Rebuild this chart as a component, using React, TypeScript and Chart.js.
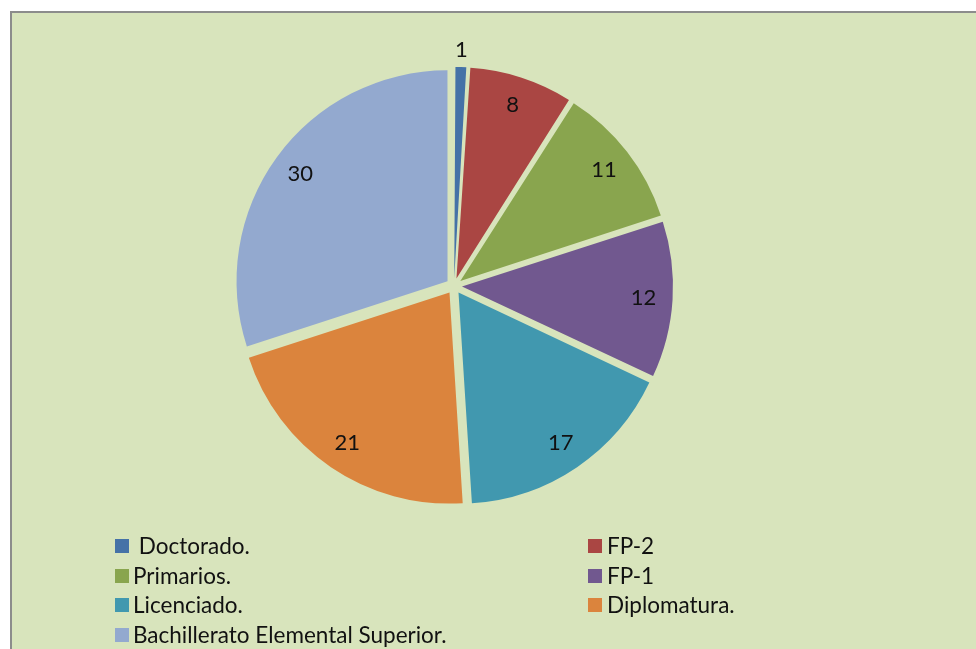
import React, { useEffect, useRef } from "react";
import { Chart, registerables } from "chart.js";

Chart.register(...registerables);

const categories = [
  " Doctorado.",
  "FP-2",
  "Primarios.",
  "FP-1",
  "Licenciado.",
  "Diplomatura.",
  "Bachillerato Elemental Superior.",
];
const values = [1, 8, 11, 12, 17, 21, 30];
const colors = ["#4572A7", "#AA4643", "#89A54E", "#71588F", "#4198AF", "#DB843D", "#93A9CF"];

// legend layout: two columns, order as in the reference
const legendLeft = [0, 2, 4, 6];
const legendRight = [1, 3, 5];

const FONT = "Lato, 'Open Sans', sans-serif";
// Chart.js v4 draws arcs translated by offset / 4
const EXPLODE = 32;

// Chart.js also grows narrow exploded arcs by (offset/4)*(1-sin(circumference));
// shrink them back so that every slice keeps the same radius (like Excel's explode).
const equalRadiusPlugin = {
  id: "equalRadius",
  beforeDatasetsDraw(chart: any) {
    const meta = chart.getDatasetMeta(0);
    const base = meta.controller.outerRadius;
    const off = EXPLODE / 4;
    meta.data.forEach((arc: any) => {
      const fix = 1 - Math.sin(Math.min(Math.PI, arc.circumference || 0));
      arc.outerRadius = base - off * fix;
    });
  },
};

const labelPlugin = {
  id: "sliceLabels",
  afterDatasetsDraw(chart: any) {
    const ctx = chart.ctx;
    const meta = chart.getDatasetMeta(0);
    const base = meta.controller.outerRadius;
    ctx.save();
    ctx.font = `22px ${FONT}`;
    ctx.fillStyle = "#111";
    ctx.textAlign = "center";
    ctx.textBaseline = "middle";
    meta.data.forEach((arc: any, i: number) => {
      const p = arc.getProps(["x", "y", "startAngle", "endAngle"], true);
      const mid = (p.startAngle + p.endAngle) / 2;
      const span = p.endAngle - p.startAngle;
      const off = EXPLODE / 4;
      const dist = span < 0.2 ? base + off + 17 : base * 0.9;
      const x = p.x + Math.cos(mid) * dist;
      const y = p.y + Math.sin(mid) * dist;
      ctx.fillText(String(values[i]), x, y);
    });
    ctx.restore();
  },
};

export default function App() {
  const ref = useRef<HTMLCanvasElement | null>(null);

  useEffect(() => {
    if (!ref.current) return;
    const chart = new Chart(ref.current, {
      type: "pie",
      data: {
        labels: categories.map((c) => c.trim()),
        datasets: [
          {
            data: values,
            backgroundColor: colors,
            borderWidth: 0,
            offset: EXPLODE,
            radius: 211,
          } as any,
        ],
      },
      options: {
        animation: false,
        responsive: false,
        events: [],
        layout: { padding: 0 },
        plugins: {
          legend: { display: false },
          tooltip: { enabled: false },
        },
      },
      plugins: [equalRadiusPlugin, labelPlugin],
    });
    return () => chart.destroy();
  }, []);

  const rowTop = (r: number) => 539 + r * 29.7;

  const legendItem = (idx: number, row: number, boxX: number, textX: number) => (
    <React.Fragment key={idx}>
      <div
        style={{
          position: "absolute",
          left: boxX,
          top: rowTop(row),
          width: 14,
          height: 14,
          background: colors[idx],
        }}
      />
      <div
        style={{
          position: "absolute",
          left: textX,
          top: rowTop(row) + 7 - 15,
          height: 30,
          lineHeight: "30px",
          fontFamily: FONT,
          fontSize: 22.5,
          color: "#111",
          whiteSpace: "pre",
        }}
      >
        {categories[idx]}
      </div>
    </React.Fragment>
  );

  return (
    <div
      style={{
        position: "fixed",
        left: 0,
        top: 0,
        width: 976,
        height: 649,
        overflow: "hidden",
        background: "#fff",
      }}
    >
      <div
        style={{
          position: "absolute",
          left: 10,
          top: 11,
          width: 1000,
          height: 700,
          borderLeft: "2px solid #8c8c8c",
          borderTop: "2px solid #8c8c8c",
          background: "#D8E4BC",
        }}
      />
      <canvas
        ref={ref}
        width={500}
        height={500}
        style={{ position: "absolute", left: 204, top: 36, width: 500, height: 500 }}
      />
      {legendLeft.map((idx, r) => legendItem(idx, r, 115, 133))}
      {legendRight.map((idx, r) => legendItem(idx, r, 588, 607))}
    </div>
  );
}
